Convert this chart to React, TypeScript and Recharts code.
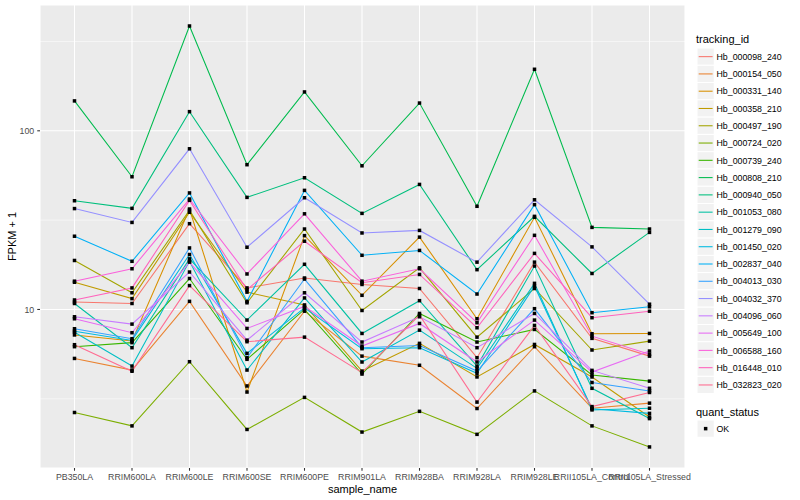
import React from 'react';
import { ComposedChart, Line, XAxis, YAxis, CartesianGrid, ReferenceLine, Label } from 'recharts';

const categories = ['PB350LA', 'RRIM600LA', 'RRIM600LE', 'RRIM600SE', 'RRIM600PE', 'RRIM901LA', 'RRIM928BA', 'RRIM928LA', 'RRIM928LE', 'RRII105LA_Control', 'RRII105LA_Stressed'];

const seriesNames = ['Hb_000098_240', 'Hb_000154_050', 'Hb_000331_140', 'Hb_000358_210', 'Hb_000497_190', 'Hb_000724_020', 'Hb_000739_240', 'Hb_000808_210', 'Hb_000940_050', 'Hb_001053_080', 'Hb_001279_090', 'Hb_001450_020', 'Hb_002837_040', 'Hb_004013_030', 'Hb_004032_370', 'Hb_004096_060', 'Hb_005649_100', 'Hb_006588_160', 'Hb_016448_010', 'Hb_032823_020'];

const seriesColors = ['#F8766D', '#EA8331', '#D89000', '#C09B00', '#A3A500', '#7CAE00', '#39B600', '#00BB4E', '#00BF7D', '#00C1A3', '#00BFC4', '#00BAE0', '#00B0F6', '#35A2FF', '#9590FF', '#C77CFF', '#E76BF3', '#FA62DB', '#FF62BC', '#FF6C91'];

const hb000098 = [11.0, 10.8, 30.2, 13.2, 15.0, 13.8, 13.1, 5.37, 18.4, 6.89, 5.48];
const hb000154 = [5.32, 4.58, 11.1, 3.73, 9.78, 5.48, 4.87, 2.79, 6.19, 2.8, 2.99];
const hb000331 = [7.2, 6.66, 36.5, 3.45, 25.9, 12.0, 25.4, 8.87, 32.8, 7.31, 7.34];
const hb000358 = [14.2, 11.5, 35.0, 12.5, 10.6, 4.52, 6.46, 4.19, 6.37, 4.19, 2.5];
const hb000497 = [18.8, 12.4, 35.9, 10.9, 28.2, 9.87, 17.1, 7.0, 13.1, 5.93, 6.65];
const hb000724 = [2.65, 2.23, 5.1, 2.13, 3.22, 2.06, 2.69, 2.0, 3.5, 2.23, 1.7];
const hb000739 = [6.19, 6.52, 14.9, 5.26, 10.0, 4.35, 9.5, 6.57, 7.73, 4.3, 3.97];
const hb000808 = [147, 55.3, 386, 64.6, 165, 63.7, 143, 37.8, 221, 28.8, 28.2];
const hb000940 = [40.6, 36.8, 128, 42.4, 54.6, 34.5, 50.1, 16.7, 33.2, 15.9, 27.0];
const hb001053 = [10.8, 6.11, 19.2, 8.72, 17.9, 7.34, 11.2, 4.82, 17.5, 3.62, 2.45];
const hb001279 = [7.45, 4.82, 18.6, 4.58, 11.6, 5.08, 7.66, 4.68, 14.0, 2.74, 2.8];
const hb001450 = [7.56, 6.71, 20.3, 5.68, 10.2, 6.03, 6.11, 4.39, 13.5, 2.78, 2.62];
const hb002837 = [25.7, 18.6, 44.9, 11.1, 46.4, 20.1, 21.4, 12.2, 38.6, 9.59, 10.35];
const hb004013 = [7.8, 6.86, 22.1, 5.37, 14.8, 6.11, 6.29, 4.52, 10.1, 3.9, 3.5];
const hb004032 = [36.7, 30.7, 79.3, 22.3, 42.2, 26.8, 27.7, 18.4, 41.1, 22.4, 10.7];
const hb004096 = [9.1, 8.28, 16.2, 6.73, 12.4, 6.57, 9.1, 6.11, 9.5, 4.56, 3.62];
const hb005649 = [8.87, 7.41, 18.4, 7.83, 10.4, 6.24, 8.35, 5.08, 8.72, 4.46, 5.85];
const hb006588 = [14.4, 16.9, 41.5, 15.8, 34.3, 14.4, 16.9, 8.43, 26.0, 7.09, 5.61];
const hb016448 = [11.3, 13.2, 40.8, 12.9, 24.1, 14.1, 15.7, 7.9, 20.6, 8.99, 9.78];
const hb032823 = [6.35, 4.51, 13.6, 6.6, 7.0, 4.43, 9.3, 3.03, 8.14, 2.86, 3.43];

const seriesValues = [hb000098, hb000154, hb000331, hb000358, hb000497, hb000724, hb000739, hb000808, hb000940, hb001053, hb001279, hb001450, hb002837, hb004013, hb004032, hb004096, hb005649, hb006588, hb016448, hb032823];

const yTicks = [10, 100];
const yMinorBreaks = [3.1623, 31.623, 316.23];
const yDomain = [1.296, 506];

const data = categories.map((c, i) => {
  const row: Record<string, any> = { name: c };
  seriesNames.forEach((n, k) => {
    row[n] = seriesValues[k][i];
  });
  return row;
});

const FONT = '"Liberation Sans", Arial, Helvetica, sans-serif';

const squareDot = (props: any) => {
  const { cx, cy, index } = props;
  if (cx == null || cy == null) return <g key={`d-${index}`} />;
  return <rect key={`d-${index}`} x={cx - 1.75} y={cy - 1.75} width={3.5} height={3.5} fill="#000" />;
};

const LegendBox = () => {
  const keySize = 17.28;
  const top = 48;
  const items = seriesNames.map((n, i) => {
    const y0 = top + i * keySize;
    return (
      <g key={n}>
        <rect x={12} y={y0} width={keySize} height={keySize} fill="#F2F2F2" stroke="#FFFFFF" strokeWidth={1} />
        <line x1={13.7} x2={27.6} y1={y0 + keySize / 2} y2={y0 + keySize / 2} stroke={seriesColors[i]} strokeWidth={1.07} />
        <text x={31.5} y={y0 + keySize / 2 + 3.2} fontSize={8.8} fill="#000" fontFamily={FONT}>{n}</text>
      </g>
    );
  });
  const okTop = 420;
  return (
    <svg width={115} height={500} style={{ position: 'absolute', left: 685, top: 0 }}>
      <text x={11} y={43} fontSize={11} fill="#000" fontFamily={FONT}>tracking_id</text>
      {items}
      <text x={11} y={415.5} fontSize={11} fill="#000" fontFamily={FONT}>quant_status</text>
      <rect x={12} y={okTop} width={keySize} height={keySize} fill="#F2F2F2" stroke="#FFFFFF" strokeWidth={1} />
      <rect x={12 + keySize / 2 - 1.75} y={okTop + keySize / 2 - 1.75} width={3.5} height={3.5} fill="#000" />
      <text x={31.5} y={okTop + keySize / 2 + 3.2} fontSize={8.8} fill="#000" fontFamily={FONT}>OK</text>
    </svg>
  );
};

export default function App() {
  return (
    <div style={{ position: 'absolute', left: 0, top: 0, width: 800, height: 500, background: '#FFFFFF', fontFamily: FONT }}>
      <ComposedChart width={800} height={500} data={data} margin={{ top: 5, right: 115, bottom: 0, left: 0 }}>
        <CartesianGrid fill="#EBEBEB" fillOpacity={1} stroke="#FFFFFF" strokeWidth={1.07} />
        {yMinorBreaks.map((v) => (
          <ReferenceLine key={`m-${v}`} y={v} stroke="#FFFFFF" strokeWidth={0.53} ifOverflow="discard" />
        ))}
        <XAxis
          dataKey="name"
          type="category"
          interval={0}
          height={32}
          padding={{ left: 34.5, right: 35.5 }}
          axisLine={false}
          tickSize={2.75}
          tickMargin={3}
          tickLine={{ stroke: '#333333', strokeWidth: 1.07 }}
          tick={{ fill: '#4D4D4D', fontSize: 8.8, fontFamily: FONT }}
        >
          <Label
            content={() => (
              <text x={362.5} y={493} textAnchor="middle" fontSize={11} fill="#000" fontFamily={FONT}>sample_name</text>
            )}
          />
        </XAxis>
        <YAxis
          type="number"
          scale="log"
          domain={yDomain}
          allowDataOverflow
          ticks={yTicks}
          width={40}
          axisLine={false}
          tickSize={2.75}
          tickMargin={3}
          tickLine={{ stroke: '#333333', strokeWidth: 1.07 }}
          tick={{ fill: '#4D4D4D', fontSize: 8.8, fontFamily: FONT }}
        >
          <Label
            content={() => (
              <text x={16} y={236.5} transform="rotate(-90 16 236.5)" textAnchor="middle" fontSize={11} fill="#000" fontFamily={FONT}>FPKM + 1</text>
            )}
          />
        </YAxis>
        {seriesNames.map((n, i) => (
          <Line
            key={`l-${n}`}
            type="linear"
            dataKey={n}
            stroke={seriesColors[i]}
            strokeWidth={1.07}
            dot={false}
            activeDot={false}
            isAnimationActive={false}
          />
        ))}
        {seriesNames.map((n) => (
          <Line
            key={`p-${n}`}
            type="linear"
            dataKey={n}
            stroke="transparent"
            strokeWidth={0}
            dot={squareDot}
            activeDot={false}
            legendType="none"
            isAnimationActive={false}
          />
        ))}
      </ComposedChart>
      <LegendBox />
    </div>
  );
}
